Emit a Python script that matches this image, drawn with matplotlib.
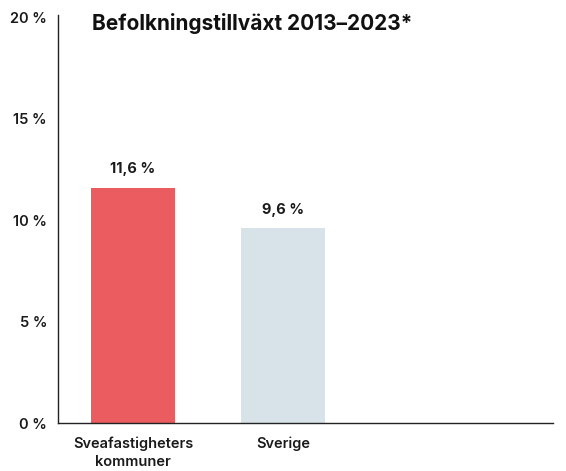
import matplotlib.pyplot as plt

plt.rcParams['font.family'] = ['Inter', 'DejaVu Sans']

categories = ['Sveafastigheters\nkommuner', 'Sverige']
growth = [11.6, 9.6]
value_labels = ['11,6 %', '9,6 %']
yticks = [0, 5, 10, 15, 20]
ytick_labels = ['0 %', '5 %', '10 %', '15 %', '20 %']
colors = ['#EB5C60', '#D7E3E8']

fig = plt.figure(figsize=(5.66, 4.71), dpi=100)
ax = fig.add_axes([0.1025, 0.1019, 0.8745, 0.866])

x = list(range(len(categories)))
bars = ax.bar(x, growth, width=0.56, color=colors)

for b, lab in zip(bars, value_labels):
    ax.annotate(lab, (b.get_x() + b.get_width() / 2, b.get_height()),
                xytext=(0, 8), textcoords='offset points',
                ha='center', va='bottom', fontsize=10.5, fontweight='bold',
                color='#1a1a1a')

ax.set_xlim(-0.5, 2.8)
ax.set_ylim(0, 20.1)
ax.set_xticks(x)
ax.set_xticklabels(categories, fontsize=10.5, fontweight='semibold',
                   color='#1a1a1a', linespacing=1.35)
ax.set_yticks(yticks)
ax.set_yticklabels(ytick_labels, fontsize=10.5, fontweight='semibold', color='#1a1a1a')
ax.tick_params(axis='both', length=0)
ax.tick_params(axis='y', pad=8)
ax.tick_params(axis='x', pad=10)

for s in ['top', 'right']:
    ax.spines[s].set_visible(False)
for s in ['left', 'bottom']:
    ax.spines[s].set_color('#222222')
    ax.spines[s].set_linewidth(1.0)

fig.text(92 / 566, 1 - 23 / 471, 'Befolkningstillväxt 2013–2023*',
         fontsize=15, fontweight='bold', ha='left', va='center', color='#111111')

fig.savefig('out.png', dpi=100, facecolor='white')
